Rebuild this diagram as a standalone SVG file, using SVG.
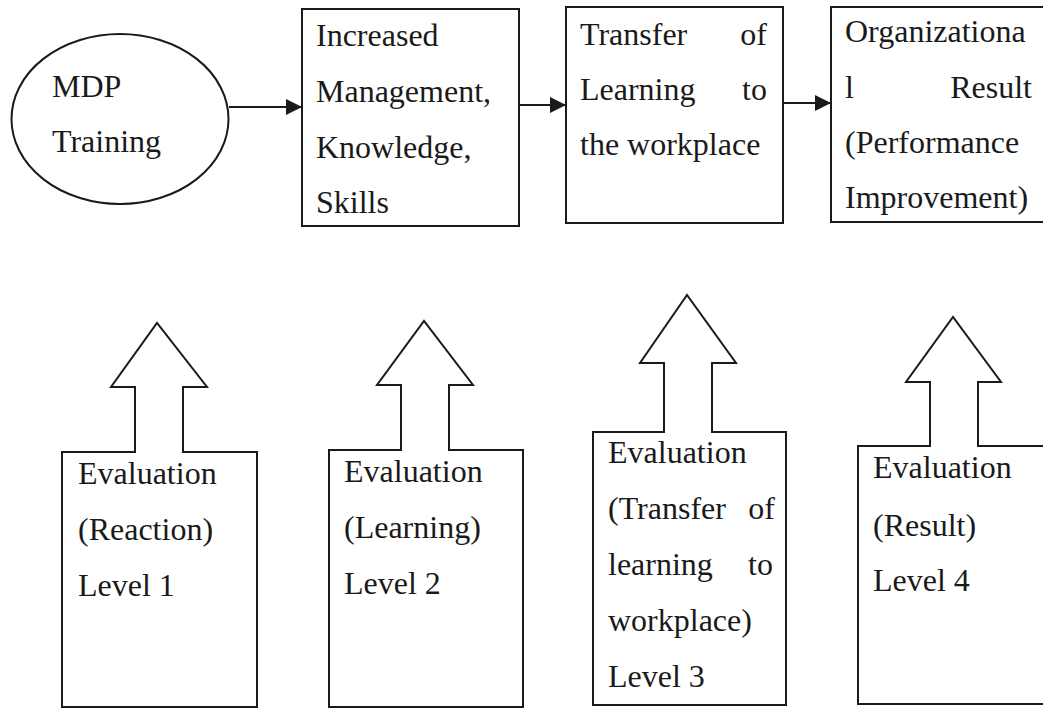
<svg xmlns="http://www.w3.org/2000/svg" width="1043" height="709" viewBox="0 0 1043 709">
  <style>
    .shape { fill: #ffffff; stroke: #1a1a1a; stroke-width: 2; stroke-linejoin: miter; }
    .link { fill: none; stroke: #1a1a1a; stroke-width: 2; }
    .lbl { font-family: "Liberation Serif", "Times New Roman", serif; font-size: 32px; fill: #1a1a1a; }
    .end { text-anchor: end; }
  </style>
  <defs>
    <marker id="head" markerUnits="userSpaceOnUse" markerWidth="18" markerHeight="18" viewBox="0 0 18 18" refX="16" refY="9" orient="auto">
      <path d="M0,1 L16,9 L0,17 Z" fill="#1a1a1a"/>
    </marker>
  </defs>
  <rect width="1043" height="709" fill="#ffffff"/>

  <!-- top row: training flow -->
  <g id="mdp-training">
    <ellipse class="shape" cx="120" cy="119" rx="108.5" ry="85"/>
    <text class="lbl" x="52" y="97">MDP</text>
    <text class="lbl" x="52" y="152">Training</text>
  </g>

  <g id="increased-knowledge">
    <rect class="shape" x="302" y="9" width="217" height="217"/>
    <text class="lbl" x="316" y="46">Increased</text>
    <text class="lbl" x="316" y="102">Management,</text>
    <text class="lbl" x="316" y="158">Knowledge,</text>
    <text class="lbl" x="316" y="213">Skills</text>
  </g>

  <g id="transfer-learning">
    <rect class="shape" x="566" y="7" width="217" height="216"/>
    <text class="lbl" x="580" y="45">Transfer</text>
    <text class="lbl end" x="767" y="45">of</text>
    <text class="lbl" x="580" y="100">Learning</text>
    <text class="lbl end" x="767" y="100">to</text>
    <text class="lbl" x="580" y="155">the workplace</text>
  </g>

  <g id="organizational-result">
    <rect class="shape" x="831" y="7" width="230" height="215"/>
    <text class="lbl" x="845" y="42">Organizationa</text>
    <text class="lbl" x="845" y="98">l</text>
    <text class="lbl end" x="1032" y="98">Result</text>
    <text class="lbl" x="845" y="153">(Performance</text>
    <text class="lbl" x="845" y="208">Improvement)</text>
  </g>

  <g id="connectors">
    <line class="link" x1="229" y1="107" x2="302" y2="107" marker-end="url(#head)"/>
    <line class="link" x1="519" y1="105" x2="566" y2="105" marker-end="url(#head)"/>
    <line class="link" x1="783" y1="103" x2="831" y2="103" marker-end="url(#head)"/>
  </g>

  <!-- bottom row: evaluation levels, each a box with an upward block arrow -->
  <g id="eval-level-1">
    <path class="shape" d="M62,452 H135 V387 H111 L157,323 L207,387 H183 V452 H257 V707 H62 Z"/>
    <text class="lbl" x="78" y="484">Evaluation</text>
    <text class="lbl" x="78" y="540">(Reaction)</text>
    <text class="lbl" x="78" y="596">Level 1</text>
  </g>

  <g id="eval-level-2">
    <path class="shape" d="M329,450 H401 V385 H377 L424,321 L473,385 H449 V450 H523 V707 H329 Z"/>
    <text class="lbl" x="344" y="482">Evaluation</text>
    <text class="lbl" x="344" y="538">(Learning)</text>
    <text class="lbl" x="344" y="594">Level 2</text>
  </g>

  <g id="eval-level-3">
    <path class="shape" d="M593,432 H664 V363 H640 L687,295 L736,363 H712 V432 H786 V705 H593 Z"/>
    <text class="lbl" x="608" y="463">Evaluation</text>
    <text class="lbl" x="608" y="519">(Transfer</text>
    <text class="lbl end" x="775" y="519">of</text>
    <text class="lbl" x="608" y="575">learning</text>
    <text class="lbl end" x="773" y="575">to</text>
    <text class="lbl" x="608" y="631">workplace)</text>
    <text class="lbl" x="608" y="687">Level 3</text>
  </g>

  <g id="eval-level-4">
    <path class="shape" d="M858,446 H930 V382 H906 L953,317 L1001,382 H978 V446 H1060 V704 H858 Z"/>
    <text class="lbl" x="873" y="478">Evaluation</text>
    <text class="lbl" x="873" y="536">(Result)</text>
    <text class="lbl" x="873" y="591">Level 4</text>
  </g>
</svg>
